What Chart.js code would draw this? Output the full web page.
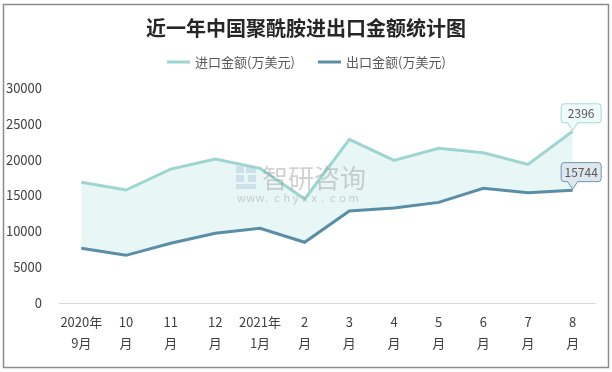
<!DOCTYPE html>
<html><head><meta charset="utf-8">
<script src="https://cdn.jsdelivr.net/npm/chart.js@4/dist/chart.umd.min.js"></script>
<style>html,body{margin:0;padding:0;background:#fff}canvas{display:block}</style>
</head><body>
<canvas id="c" width="612" height="372"></canvas>
<script>
const titleText = "近一年中国聚酰胺进出口金额统计图";
const months = [["2020年","9月"],["10","月"],["11","月"],["12","月"],["2021年","1月"],["2","月"],["3","月"],["4","月"],["5","月"],["6","月"],["7","月"],["8","月"]];
const seriesNames = ["进口金额(万美元)","出口金额(万美元)"];
const importValues = [16850,15760,18690,20080,18790,14500,22830,19900,21580,20960,19340,23960];
const exportValues = [7630,6650,8330,9720,10420,8470,12830,13250,14040,16000,15380,15744];
const lastLabels = ["2396","15744"];
const yTicks = [0,5000,10000,15000,20000,25000,30000];

const FONT = "'Noto Sans CJK SC','Microsoft YaHei',sans-serif";
const C_IMP = "#9dd5d1", C_EXP = "#5a8ea6";

function roundRect(ctx,x,y,w,h,r){ctx.beginPath();ctx.moveTo(x+r,y);ctx.lineTo(x+w-r,y);ctx.quadraticCurveTo(x+w,y,x+w,y+r);ctx.lineTo(x+w,y+h-r);ctx.quadraticCurveTo(x+w,y+h,x+w-r,y+h);ctx.lineTo(x+r,y+h);ctx.quadraticCurveTo(x,y+h,x,y+h-r);ctx.lineTo(x,y+r);ctx.quadraticCurveTo(x,y,x+r,y);ctx.closePath();}

const deco = {
  id:'deco',
  beforeDraw(chart){
    const ctx = chart.ctx;
    ctx.save();
    ctx.fillStyle='#fff';ctx.fillRect(0,0,chart.width,chart.height);
    ctx.strokeStyle='#8c8c8c';ctx.lineWidth=1.5;ctx.strokeRect(3.5,4.5,chart.width-7,chart.height-9);
    ctx.fillStyle='#262626';ctx.font="bold 20px "+FONT;ctx.textAlign='center';ctx.textBaseline='middle';
    ctx.fillText(titleText,306,28);
    ctx.font="13px "+FONT;ctx.textAlign='left';ctx.fillStyle='#595959';
    const items=[{x:167,c:C_IMP,t:seriesNames[0]},{x:318,c:C_EXP,t:seriesNames[1]}];
    items.forEach(it=>{ctx.strokeStyle=it.c;ctx.lineWidth=3;ctx.beginPath();ctx.moveTo(it.x,62);ctx.lineTo(it.x+23,62);ctx.stroke();ctx.fillText(it.t,it.x+28,62);});
    ctx.restore();
  },
  afterDatasetsDraw(chart){
    const ctx=chart.ctx;ctx.save();
    ctx.globalAlpha=0.45;
    ctx.fillStyle='#a9c7dc';
    ctx.fillRect(236,166,8,7);ctx.fillRect(246,166,10,7);ctx.fillRect(236,175,8,7);ctx.fillRect(236,184,20,5);ctx.fillRect(248,175,8,7);
    ctx.fillStyle='#9a9a9a';ctx.font="26px "+FONT;ctx.textAlign='left';ctx.textBaseline='middle';
    ctx.fillText("智研咨询",262,178);
    ctx.font="11px "+FONT;
    const s="www.chyxx.com";let x=237;for(const ch of s){ctx.fillText(ch,x,198);x+=9.3;}
    ctx.restore();
  },
  afterDraw(chart){
    const ctx=chart.ctx;ctx.save();
    const n=months.length-1;
    const specs=[{ds:0,fill:'#effafa',stroke:'#a3dad6'},{ds:1,fill:'#dfe7ee',stroke:'#6b97ad'}];
    specs.forEach(sp=>{
      const p=chart.getDatasetMeta(sp.ds).data[n];
      const px=p.x, py=p.y;
      const bx=px-12, bw=40, bh=19, by=py-9-bh;
      ctx.fillStyle=sp.fill;ctx.strokeStyle=sp.stroke;ctx.lineWidth=1;
      roundRect(ctx,bx+0.5,by+0.5,bw,bh,3);
      ctx.fill();ctx.stroke();
      ctx.beginPath();ctx.moveTo(px-5,by+bh+0.5);ctx.lineTo(px,py-1);ctx.lineTo(px+5,by+bh+0.5);ctx.closePath();
      ctx.fill();
      ctx.beginPath();ctx.moveTo(px-5,by+bh+0.5);ctx.lineTo(px,py-1);ctx.lineTo(px+5,by+bh+0.5);ctx.stroke();
      ctx.fillRect(px-4.5,by+bh-1,9,2);
      ctx.fillStyle='#595959';ctx.font="12px "+FONT;ctx.textAlign='center';ctx.textBaseline='middle';
      ctx.fillText(lastLabels[sp.ds],bx+bw/2+0.5,by+bh/2+1);
    });
    ctx.restore();
  }
};

new Chart(document.getElementById('c'),{
  type:'line',
  data:{labels:months,datasets:[
    {label:seriesNames[0],data:importValues,borderColor:C_IMP,backgroundColor:'#e9f6f6',borderWidth:3,pointRadius:0,tension:0,fill:'+1'},
    {label:seriesNames[1],data:exportValues,borderColor:C_EXP,backgroundColor:C_EXP,borderWidth:3,pointRadius:0,tension:0,fill:false}
  ]},
  options:{
    responsive:false,animation:false,devicePixelRatio:1,
    layout:{padding:{left:0,right:17,top:88,bottom:10}},
    plugins:{legend:{display:false},title:{display:false},tooltip:{enabled:false},filler:{drawTime:'beforeDatasetsDraw'}},
    scales:{
      x:{offset:true,grid:{display:false,drawTicks:false},border:{display:true,color:'#d9d9d9',width:1},
         ticks:{color:'#404040',font:{family:FONT,size:13,lineHeight:1.6},padding:9,maxRotation:0,autoSkip:false},
         afterFit(s){s.height=59;}},
      y:{min:0,max:30000,grid:{display:false,drawTicks:false},border:{display:false},
         afterBuildTicks(s){s.ticks=yTicks.map(v=>({value:v}));},
         ticks:{color:'#404040',font:{family:FONT,size:13},padding:17,callback:v=>String(v)},
         afterFit(s){s.width=59;}}
    }
  },
  plugins:[deco]
});
</script>
</body></html>
